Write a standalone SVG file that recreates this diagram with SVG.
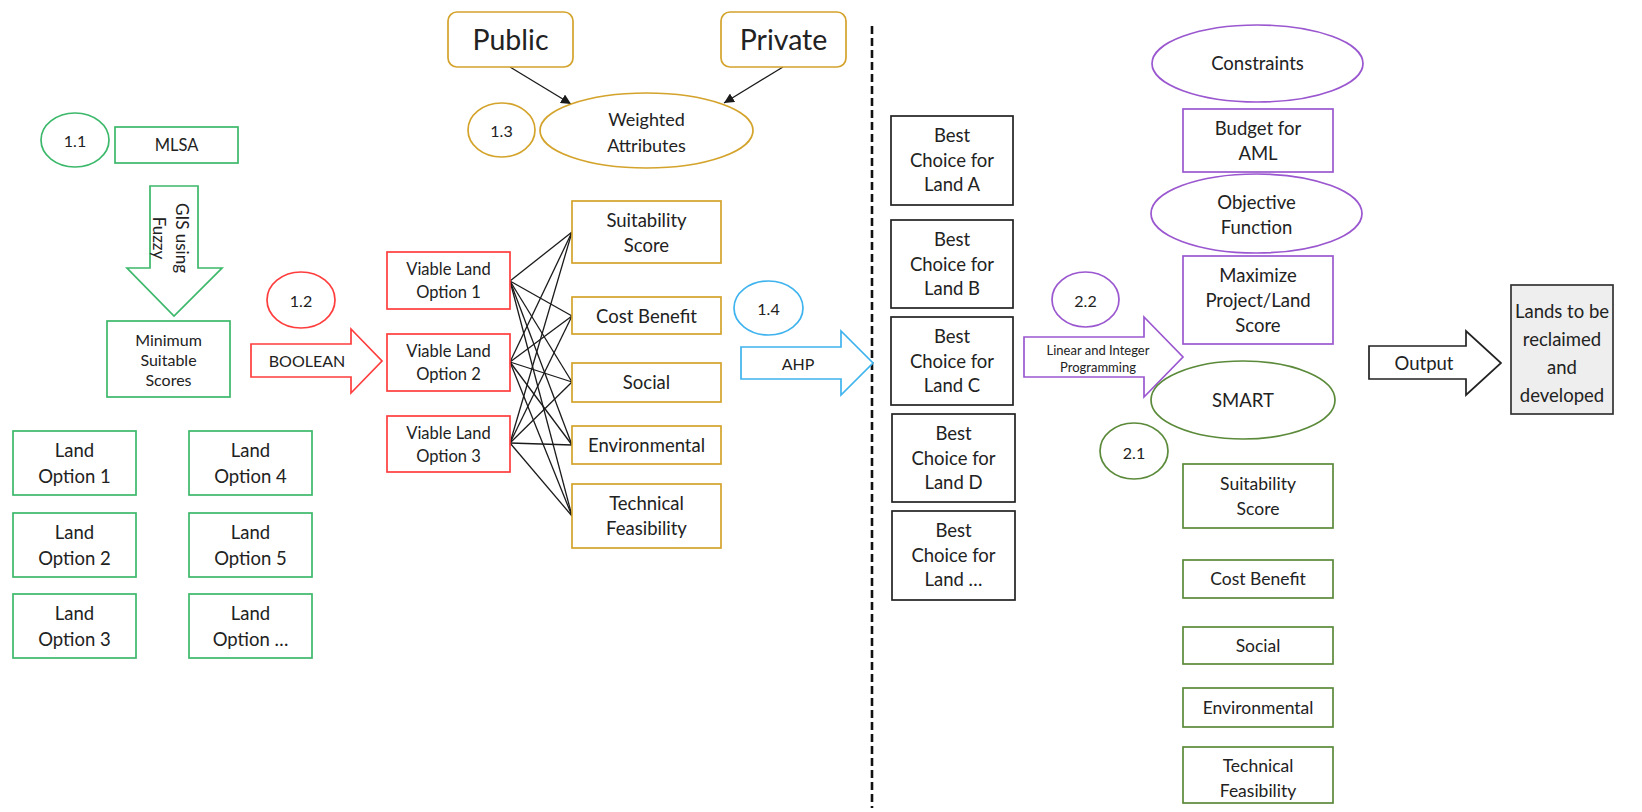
<svg xmlns="http://www.w3.org/2000/svg" width="1642" height="812" viewBox="0 0 1642 812">
<defs>
<style>
.s{fill:#fff;stroke-width:1.7}
.g{stroke:#3cb86a}.r{stroke:#ff3d3d}.y{stroke:#d4a32b}.c{stroke:#3fb3ee}.p{stroke:#9a57cf}.d{stroke:#5b8a3a}.k{stroke:#222}
text{font-family:Lato,"Liberation Sans",sans-serif;fill:#222;text-anchor:middle;dominant-baseline:central;font-size:18.5px}
.sm{font-size:16px}.lg{font-size:28.5px}.xs{font-size:13px}
.ln{stroke:#1a1a1a;stroke-width:1.3;fill:none}
</style>
<marker id="ah" viewBox="0 0 10 10" refX="10" refY="5" markerWidth="10" markerHeight="10" markerUnits="userSpaceOnUse" orient="auto"><path d="M0,0 L10,5 L0,10 z" fill="#1a1a1a"/></marker>
</defs>
<rect width="1642" height="812" fill="#fff"/>

<g id="connectors">
<line x1="872" y1="26" x2="872" y2="808" stroke="#111" stroke-width="2.6" stroke-dasharray="8,4"/>
<line class="ln" x1="510" y1="67" x2="571" y2="104" marker-end="url(#ah)"/>
<line class="ln" x1="783" y1="67" x2="724" y2="103" marker-end="url(#ah)"/>
<g class="ln">
<line x1="510" y1="281" x2="572" y2="232"/><line x1="510" y1="281" x2="572" y2="316"/><line x1="510" y1="281" x2="572" y2="382"/><line x1="510" y1="281" x2="572" y2="445"/><line x1="510" y1="281" x2="572" y2="516"/>
<line x1="510" y1="362" x2="572" y2="232"/><line x1="510" y1="362" x2="572" y2="316"/><line x1="510" y1="362" x2="572" y2="382"/><line x1="510" y1="362" x2="572" y2="445"/><line x1="510" y1="362" x2="572" y2="516"/>
<line x1="510" y1="443" x2="572" y2="232"/><line x1="510" y1="443" x2="572" y2="316"/><line x1="510" y1="443" x2="572" y2="382"/><line x1="510" y1="443" x2="572" y2="445"/><line x1="510" y1="443" x2="572" y2="516"/>
</g>
</g>

<g id="n11"><ellipse class="s g" cx="75" cy="140" rx="34" ry="27"/><text class="sm" x="75" y="140">1.1</text></g>
<g id="mlsa"><rect class="s g" x="115" y="127" width="123" height="36"/><text x="176.5" y="145" style="font-size:16.5px">MLSA</text></g>
<g id="fuzzy"><path class="s g" d="M150,186 H198 V268 H222 L174,316 L127,268 H150 Z"/>
<text transform="translate(172,238) rotate(90)" style="font-size:17px"><tspan x="0" y="-11">GIS using</tspan><tspan x="0" y="12">Fuzzy</tspan></text></g>
<g id="minscore"><rect class="s g" x="107" y="321" width="123" height="76"/><text style="font-size:16px"><tspan x="168.5" y="339">Minimum</tspan><tspan x="168.5" y="359">Suitable</tspan><tspan x="168.5" y="379">Scores</tspan></text></g>
<g id="lo1"><rect class="s g" x="13" y="431" width="123" height="64"/><text><tspan x="74.5" y="450">Land</tspan><tspan x="74.5" y="476">Option 1</tspan></text></g>
<g id="lo2"><rect class="s g" x="13" y="513" width="123" height="64"/><text><tspan x="74.5" y="532">Land</tspan><tspan x="74.5" y="558">Option 2</tspan></text></g>
<g id="lo3"><rect class="s g" x="13" y="594" width="123" height="64"/><text><tspan x="74.5" y="613">Land</tspan><tspan x="74.5" y="639">Option 3</tspan></text></g>
<g id="lo4"><rect class="s g" x="189" y="431" width="123" height="64"/><text><tspan x="250.5" y="450">Land</tspan><tspan x="250.5" y="476">Option 4</tspan></text></g>
<g id="lo5"><rect class="s g" x="189" y="513" width="123" height="64"/><text><tspan x="250.5" y="532">Land</tspan><tspan x="250.5" y="558">Option 5</tspan></text></g>
<g id="lo6"><rect class="s g" x="189" y="594" width="123" height="64"/><text><tspan x="250.5" y="613">Land</tspan><tspan x="250.5" y="639">Option …</tspan></text></g>

<g id="n12"><ellipse class="s r" cx="301" cy="300" rx="34" ry="28"/><text class="sm" x="301" y="300">1.2</text></g>
<g id="boolean"><path class="s r" d="M251,344 H351 V329 L382,361 L351,393 V377 H251 Z"/><text x="307" y="360" style="font-size:16px">BOOLEAN</text></g>
<g id="vlo1"><rect class="s r" x="387" y="252" width="123" height="57"/><text style="font-size:16.5px"><tspan x="448.5" y="269">Viable Land</tspan><tspan x="448.5" y="292">Option 1</tspan></text></g>
<g id="vlo2"><rect class="s r" x="387" y="334" width="123" height="57"/><text style="font-size:16.5px"><tspan x="448.5" y="351">Viable Land</tspan><tspan x="448.5" y="374">Option 2</tspan></text></g>
<g id="vlo3"><rect class="s r" x="387" y="416" width="123" height="56"/><text style="font-size:16.5px"><tspan x="448.5" y="433">Viable Land</tspan><tspan x="448.5" y="456">Option 3</tspan></text></g>

<g id="public"><rect class="s y" x="448" y="12" width="125" height="55" rx="9"/><text class="lg" x="510.5" y="39">Public</text></g>
<g id="private"><rect class="s y" x="721" y="12" width="125" height="55" rx="9"/><text class="lg" x="783.5" y="39">Private</text></g>
<g id="n13"><ellipse class="s y" cx="501.5" cy="130" rx="33.5" ry="27"/><text class="sm" x="501.5" y="130">1.3</text></g>
<g id="weighted"><ellipse class="s y" cx="646.5" cy="130.5" rx="106.5" ry="37.5"/><text style="font-size:18px"><tspan x="646.5" y="119">Weighted</tspan><tspan x="646.5" y="145">Attributes</tspan></text></g>
<g id="suit1"><rect class="s y" x="572" y="201" width="149" height="62"/><text><tspan x="646.5" y="220">Suitability</tspan><tspan x="646.5" y="245">Score</tspan></text></g>
<g id="cost1"><rect class="s y" x="572" y="297" width="149" height="37"/><text x="646.5" y="316">Cost Benefit</text></g>
<g id="social1"><rect class="s y" x="572" y="363" width="149" height="39"/><text x="646.5" y="382">Social</text></g>
<g id="env1"><rect class="s y" x="572" y="426" width="149" height="38"/><text x="646.5" y="445">Environmental</text></g>
<g id="tech1"><rect class="s y" x="572" y="484" width="149" height="64"/><text><tspan x="646.5" y="503">Technical</tspan><tspan x="646.5" y="528">Feasibility</tspan></text></g>

<g id="n14"><ellipse class="s c" cx="768.5" cy="308" rx="34.5" ry="27"/><text class="sm" x="768.5" y="308">1.4</text></g>
<g id="ahp"><path class="s c" d="M741,347 H841 V331 L873,363 L841,395 V379 H741 Z"/><text x="798" y="363" style="font-size:16px">AHP</text></g>

<g id="bestA"><rect class="s k" x="891" y="116" width="122" height="89"/><text><tspan x="952" y="135">Best</tspan><tspan x="952" y="160">Choice for</tspan><tspan x="952" y="184">Land A</tspan></text></g>
<g id="bestB"><rect class="s k" x="891" y="220" width="122" height="88"/><text><tspan x="952" y="239">Best</tspan><tspan x="952" y="264">Choice for</tspan><tspan x="952" y="288">Land B</tspan></text></g>
<g id="bestC"><rect class="s k" x="891" y="317" width="122" height="88"/><text><tspan x="952" y="336">Best</tspan><tspan x="952" y="361">Choice for</tspan><tspan x="952" y="385">Land C</tspan></text></g>
<g id="bestD"><rect class="s k" x="892" y="414" width="123" height="88"/><text><tspan x="953.5" y="433">Best</tspan><tspan x="953.5" y="458">Choice for</tspan><tspan x="953.5" y="482">Land D</tspan></text></g>
<g id="bestE"><rect class="s k" x="892" y="511" width="123" height="89"/><text><tspan x="953.5" y="530">Best</tspan><tspan x="953.5" y="555">Choice for</tspan><tspan x="953.5" y="579">Land …</tspan></text></g>

<g id="n22"><ellipse class="s p" cx="1085.5" cy="299.5" rx="33.5" ry="27.5"/><text class="sm" x="1085.5" y="300">2.2</text></g>
<g id="lip"><path class="s p" d="M1024,337 H1144 V317 L1183,357 L1144,397 V377 H1024 Z"/><text class="xs"><tspan x="1098" y="350">Linear and Integer</tspan><tspan x="1098" y="367">Programming</tspan></text></g>
<g id="constraints"><ellipse class="s p" cx="1257.5" cy="63.5" rx="105.5" ry="38.5"/><text x="1257.5" y="63">Constraints</text></g>
<g id="budget"><rect class="s p" x="1183" y="109" width="150" height="63"/><text><tspan x="1258" y="128">Budget for</tspan><tspan x="1258" y="153">AML</tspan></text></g>
<g id="objective"><ellipse class="s p" cx="1256.5" cy="213.5" rx="105.5" ry="39.5"/><text><tspan x="1256.5" y="202">Objective</tspan><tspan x="1256.5" y="227">Function</tspan></text></g>
<g id="maximize"><rect class="s p" x="1183" y="256" width="150" height="88"/><text><tspan x="1258" y="275">Maximize</tspan><tspan x="1258" y="300">Project/Land</tspan><tspan x="1258" y="325">Score</tspan></text></g>

<g id="smart"><ellipse class="s d" cx="1243" cy="400" rx="92" ry="39"/><text x="1243" y="400">SMART</text></g>
<g id="n21"><ellipse class="s d" cx="1134" cy="451" rx="34" ry="28"/><text class="sm" x="1134" y="452">2.1</text></g>
<g id="suit2"><rect class="s d" x="1183" y="464" width="150" height="64"/><text style="font-size:17.5px"><tspan x="1258" y="483">Suitability</tspan><tspan x="1258" y="508">Score</tspan></text></g>
<g id="cost2"><rect class="s d" x="1183" y="560" width="150" height="38"/><text x="1258" y="578" style="font-size:17.5px">Cost Benefit</text></g>
<g id="social2"><rect class="s d" x="1183" y="627" width="150" height="37"/><text x="1258" y="645" style="font-size:17.5px">Social</text></g>
<g id="env2"><rect class="s d" x="1183" y="688" width="150" height="39"/><text x="1258" y="707" style="font-size:17.5px">Environmental</text></g>
<g id="tech2"><rect class="s d" x="1183" y="747" width="150" height="56"/><text style="font-size:17.5px"><tspan x="1258" y="765">Technical</tspan><tspan x="1258" y="790">Feasibility</tspan></text></g>

<g id="output"><path class="s k" d="M1369,346 H1466 V331 L1501,363 L1466,395 V379 H1369 Z"/><text x="1424" y="363">Output</text></g>
<g id="lands"><rect x="1511" y="285" width="102" height="129" fill="#eeeeee" stroke="#333" stroke-width="1.7"/><text><tspan x="1562" y="311">Lands to be</tspan><tspan x="1562" y="339">reclaimed</tspan><tspan x="1562" y="367">and</tspan><tspan x="1562" y="395">developed</tspan></text></g>
</svg>
